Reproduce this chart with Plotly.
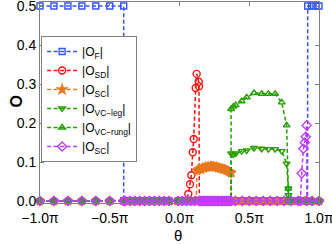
import plotly.graph_objects as go

# ---- data (theta in units of pi) ----
ZERO_GRID = [-1.0, -0.9, -0.8, -0.7, -0.6, -0.5, -0.4, -0.39, -0.355, -0.32, -0.285, -0.25,
             -0.215, -0.18, -0.145, -0.11, -0.075, -0.01, 0.02, 0.05, 0.08, 0.11,
             0.14, 0.15, 0.16, 0.17, 0.18, 0.19, 0.20, 0.21, 0.22, 0.23, 0.24, 0.25, 0.26,
             0.27, 0.28, 0.29, 0.30, 0.31, 0.32, 0.33, 0.34, 0.35, 0.36, 0.37,
             0.40, 0.45, 0.50, 0.55, 0.60, 0.65, 0.70, 0.75, 0.80, 0.85, 0.90, 0.95, 1.0]

F_left_theta = [-1.0, -0.9, -0.8, -0.7, -0.6, -0.5, -0.4]
F_left_vals = [0.5, 0.5, 0.5, 0.5, 0.5, 0.5, 0.5]
F_right_theta = [0.918, 0.919, 0.948, 0.978, 1.0]
F_right_vals = [0.0, 0.5, 0.5, 0.5, 0.5]

SD_theta = [0.063, 0.075, 0.085, 0.095, 0.102, 0.116, 0.123, 0.138, 0.140, 0.142]
SD_vals = [0.018, 0.043, 0.066, 0.125, 0.159, 0.290, 0.326, 0.306, 0.294, 0.0]

SC_theta = [0.120, 0.125, 0.135, 0.145, 0.155, 0.165, 0.175, 0.185, 0.195, 0.205, 0.215,
            0.225, 0.235, 0.245, 0.255, 0.265, 0.275, 0.285, 0.295, 0.305, 0.315,
            0.325, 0.335, 0.345, 0.355, 0.365, 0.371, 0.372]
SC_vals = [0.0, 0.078, 0.081, 0.083, 0.081, 0.086, 0.084, 0.088, 0.086, 0.089, 0.087,
           0.090, 0.088, 0.089, 0.087, 0.088, 0.085, 0.086, 0.083, 0.084, 0.081,
           0.082, 0.079, 0.078, 0.076, 0.074, 0.072, 0.0]

LEG_theta = [0.369, 0.370, 0.386, 0.403, 0.446, 0.482, 0.534, 0.589, 0.637, 0.685,
             0.733, 0.768, 0.780, 0.781, 0.782]
LEG_vals = [0.0, 0.122, 0.119, 0.122, 0.128, 0.130, 0.136, 0.134, 0.133, 0.133,
            0.128, 0.096, 0.032, 0.015, 0.0]

RUNG_theta = [0.369, 0.370, 0.386, 0.403, 0.446, 0.482, 0.534, 0.589, 0.637, 0.685,
              0.733, 0.768, 0.780, 0.782]
RUNG_vals = [0.0, 0.236, 0.242, 0.246, 0.256, 0.266, 0.277, 0.275, 0.275, 0.275,
             0.253, 0.194, 0.032, 0.0]

SC2_theta = [0.866, 0.876, 0.888, 0.898, 0.905, 0.912, 0.913]
SC2_vals = [0.0, 0.071, 0.134, 0.150, 0.165, 0.194, 0.0]

X_TICKS = [-1.0, -0.5, 0.0, 0.5, 1.0]
X_LABELS = ["\u22121.0\u03c0", "\u22120.5\u03c0", "0.0\u03c0", "0.5\u03c0", "1.0\u03c0"]
Y_TICKS = [0.0, 0.1, 0.2, 0.3, 0.4, 0.5]
Y_LABELS = ["0.0", "0.1", "0.2", "0.3", "0.4", "0.5"]


def assemble(act_theta, act_vals):
    lo, hi = act_theta[0], act_theta[-1]
    left = [t for t in ZERO_GRID if t < lo]
    right = [t for t in ZERO_GRID if t > hi]
    xs = left + list(act_theta) + right
    ys = [0.0] * len(left) + list(act_vals) + [0.0] * len(right)
    return xs, ys


def assemble_F():
    mid = [t for t in ZERO_GRID if F_left_theta[-1] < t < F_right_theta[0]]
    xs = F_left_theta + [F_left_theta[-1]] + mid + F_right_theta
    ys = F_left_vals + [0.0] + [0.0] * len(mid) + F_right_vals
    return xs, ys


BLUE = "#3355ff"
RED = "#ff1010"
ORANGE = "#e8781e"
GREEN = "#22a000"
PURPLE = "#c03cff"
DASH = "4px,2.5px"

series = [
    ("|O<sub>F</sub>|", assemble_F(), BLUE, "square-open", 6),
    ("|O<sub>SD</sub>|", assemble(SD_theta, SD_vals), RED, "circle-open", 7),
    ("|O<sub>SC</sub>|", assemble(SC_theta, SC_vals), ORANGE, "star", 7),
    ("|O<sub>VC\u2212leg</sub>|", assemble(LEG_theta, LEG_vals), GREEN, "triangle-down-open", 6),
    ("|O<sub>VC\u2212rung</sub>|", assemble(RUNG_theta, RUNG_vals), GREEN, "triangle-up-open", 6),
    ("|O<sub>SC</sub>|", assemble(SC2_theta, SC2_vals), PURPLE, "diamond-open", 7),
]

fig = go.Figure()
for name, (xs, ys), col, sym, sz in series:
    fig.add_trace(go.Scatter(
        x=xs, y=ys, name=name, mode="lines+markers",
        line=dict(color=col, width=1.5, dash=DASH),
        marker=dict(symbol=sym, size=sz, color=col, line=dict(color=col, width=1.4)),
        cliponaxis=False,
    ))

axis_common = dict(showline=True, linecolor="#808080", linewidth=1, mirror="ticks",
                   ticks="inside", ticklen=4, tickcolor="#808080", showgrid=False,
                   zeroline=False, ticklabeloverflow="allow", automargin=False,
                   tickfont=dict(family="Liberation Sans, Arial", size=14, color="black"))

fig.update_layout(
    width=332, height=245,
    margin=dict(l=40, r=13, t=2, b=42),
    paper_bgcolor="white", plot_bgcolor="white",
    font=dict(family="Liberation Sans, Arial", size=14, color="black"),
    xaxis=dict(range=[-1.0, 1.0], tickvals=X_TICKS, ticktext=X_LABELS,
               ticklabelstandoff=2, **axis_common),
    yaxis=dict(range=[-0.005, 0.5103], tickvals=Y_TICKS, ticktext=Y_LABELS, **axis_common),
    legend=dict(x=0.004, y=0.831, xanchor="left", yanchor="top",
                bgcolor="white", bordercolor="#808080", borderwidth=1,
                font=dict(family="Liberation Sans, Arial", size=12, color="black"),
                itemwidth=30, tracegroupgap=0),
    showlegend=True,
    annotations=[
        dict(text="<b>O</b>", x=-0.122, y=0.507, xref="paper", yref="paper",
             showarrow=False, textangle=-90, font=dict(size=16, color="black")),
        dict(text="\u03b8", x=0.495, y=-0.164, xref="paper", yref="paper",
             showarrow=False, xanchor="center", yanchor="middle",
             font=dict(size=15, color="black")),
    ],
)

fig.write_html("out.html", config={"displayModeBar": False},
               post_script="document.body.style.margin='0';")
